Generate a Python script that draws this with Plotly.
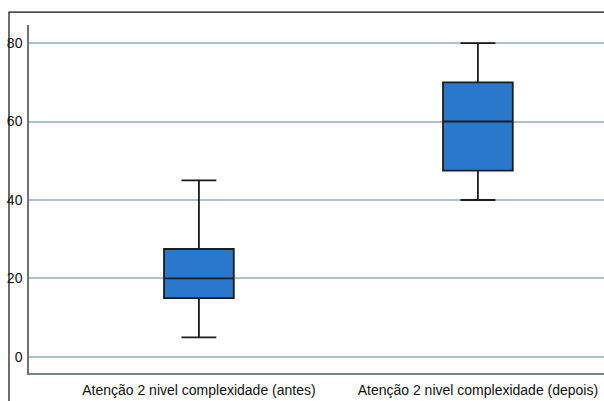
import plotly.graph_objects as go

categories = ["Atenção 2 nivel complexidade (antes)", "Atenção 2 nivel complexidade (depois)"]
lower_whisker = [5, 40]
q1_values = [15, 47.5]
median_values = [20, 60]
q3_values = [27.5, 70]
upper_whisker = [45, 80]
y_ticks = [0, 20, 40, 60, 80]

fig = go.Figure()
fig.add_trace(go.Box(
    x=categories,
    lowerfence=lower_whisker,
    q1=q1_values,
    median=median_values,
    q3=q3_values,
    upperfence=upper_whisker,
    fillcolor="#2a78cc",
    line=dict(color="#1c1c1c", width=1.8),
    width=0.25,
    whiskerwidth=0.5,
    boxpoints=False,
    showlegend=False,
    hoverinfo="skip",
))

fig.update_layout(
    width=604, height=401,
    margin=dict(l=29, r=0, t=25, b=28),
    paper_bgcolor="white", plot_bgcolor="white",
    font=dict(family="Liberation Sans, Arial, sans-serif", color="#111"),
    xaxis=dict(
        type="category",
        range=[-0.609, 1.452],
        automargin=False,
        showgrid=False, zeroline=False,
        showline=True, linecolor="#7a7f88", linewidth=1.5,
        ticks="", tickfont=dict(size=14, color="#111"),
        ticklabelstandoff=3,
    ),
    yaxis=dict(
        range=[-4.1, 84.6],
        tickvals=y_ticks,
        automargin=False,
        showgrid=True, gridcolor="#b3bfce", gridwidth=1.5,
        zeroline=False,
        showline=True, linecolor="#6d727a", linewidth=1.5,
        ticks="", tickfont=dict(size=14, color="#111"),
        ticklabelstandoff=2,
    ),
    shapes=[dict(
        type="rect", xref="paper", yref="paper",
        x0=-0.0348, x1=1.2, y0=-0.3, y1=1.037,
        line=dict(color="#111", width=1.2), fillcolor="rgba(0,0,0,0)",
        layer="below",
    )],
)

fig.write_html(
    "out.html",
    config={"displayModeBar": False},
    post_script="document.body.style.margin='0';document.body.style.overflow='hidden';",
)
